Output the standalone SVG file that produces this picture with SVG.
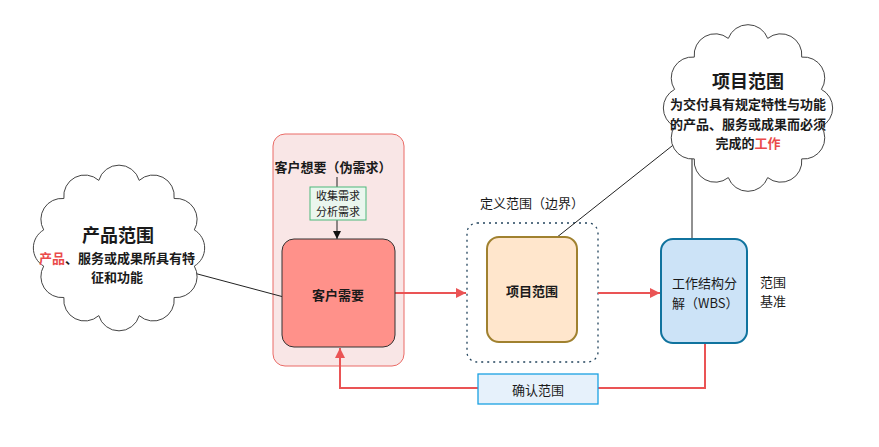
<svg xmlns="http://www.w3.org/2000/svg" width="879" height="447" viewBox="0 0 879 447">
<defs>
<style>
text{font-family:"Noto Sans CJK SC","Noto Sans",sans-serif;fill:#1a1a1a}
.b{font-weight:bold}
.t13{font-size:13px}
.t12{font-size:12.5px}
.t18{font-size:18px;font-weight:bold}
.red{fill:#ea4b4b}
.cloud{fill:#fff;stroke:#444;stroke-width:1}
.thin{stroke:#222;stroke-width:1;fill:none}
.rl{stroke:#ea5455;stroke-width:2;fill:none}
</style>
<marker id="ar" viewBox="0 0 10 10" refX="10" refY="5" markerWidth="10" markerHeight="10" markerUnits="userSpaceOnUse" orient="auto">
<path d="M0,0 L10,5 L0,10 z" fill="#ea5455"/>
</marker>
<marker id="ab" viewBox="0 0 10 10" refX="10" refY="5" markerWidth="8" markerHeight="8" markerUnits="userSpaceOnUse" orient="auto">
<path d="M0,0 L10,5 L0,10 z" fill="#111"/>
</marker>
</defs>
<rect width="879" height="447" fill="#fff"/>

<g id="container-want">
<rect x="273" y="134" width="131" height="232" rx="12" fill="#f9e6e6" stroke="#ea6b66" stroke-width="1"/>
<text class="t13 b" x="333" y="172" text-anchor="middle">客户想要（伪需求）</text>
</g>

<g id="container-define">
<rect x="467" y="223" width="131" height="139" rx="10" fill="none" stroke="#23445d" stroke-width="1.3" stroke-dasharray="2,4"/>
<text class="t13" x="532" y="208" text-anchor="middle">定义范围（边界）</text>
</g>

<g id="connectors">
<line class="thin" x1="190" y1="272" x2="295" y2="300"/>
<line class="thin" x1="537" y1="253" x2="677" y2="142"/>
<line class="thin" x1="692" y1="150" x2="692" y2="262"/>
<line class="thin" x1="337" y1="177" x2="337" y2="239" marker-end="url(#ab)"/>
<line class="rl" x1="395" y1="293" x2="466" y2="293" marker-end="url(#ar)"/>
<line class="rl" x1="598" y1="293" x2="660" y2="293" marker-end="url(#ar)"/>
<polyline class="rl" points="705,343 705,388 340,388 340,348" marker-end="url(#ar)"/>
</g>

<g id="cloud-product">
<path class="cloud" d="M194.3,266.1 A21,21 0 0 1 174.1,297.5 A21,21 0 0 1 139.2,315.6 A21,21 0 0 1 98.8,315.6 A21,21 0 0 1 63.9,297.5 A21,21 0 0 1 43.7,266.1 A21,21 0 0 1 43.7,229.9 A21,21 0 0 1 63.9,198.5 A21,21 0 0 1 98.8,180.4 A21,21 0 0 1 139.2,180.4 A21,21 0 0 1 174.1,198.5 A21,21 0 0 1 194.3,229.9 A21,21 0 0 1 194.3,266.1 Z"/>
<text class="t18" x="118" y="242" text-anchor="middle">产品范围</text>
<text class="t13 b" x="117" y="263" text-anchor="middle"><tspan class="red">产品</tspan>、服务或成果所具有特</text>
<text class="t13 b" x="117" y="282" text-anchor="middle">征和功能</text>
</g>

<g id="cloud-project">
<path class="cloud" d="M821.4,126.6 A21,21 0 0 1 801.7,158.9 A21,21 0 0 1 767.7,177.6 A21,21 0 0 1 728.3,177.6 A21,21 0 0 1 694.3,158.9 A21,21 0 0 1 674.6,126.6 A21,21 0 0 1 674.6,89.4 A21,21 0 0 1 694.3,57.1 A21,21 0 0 1 728.3,38.4 A21,21 0 0 1 767.7,38.4 A21,21 0 0 1 801.7,57.1 A21,21 0 0 1 821.4,89.4 A21,21 0 0 1 821.4,126.6 Z"/>
<text class="t18" x="748" y="88" text-anchor="middle">项目范围</text>
<text class="t13 b" x="748" y="109" text-anchor="middle">为交付具有规定特性与功能</text>
<text class="t13 b" x="748" y="129" text-anchor="middle">的产品、服务或成果而必须</text>
<text class="t13 b" x="748" y="148" text-anchor="middle">完成的<tspan class="red">工作</tspan></text>
</g>

<g id="label-collect">
<rect x="310" y="187" width="56" height="33" fill="#eaf6ee" stroke="#4cb87a" stroke-width="1"/>
<text x="338" y="200" text-anchor="middle" style="font-size:11px">收集需求</text>
<text x="338" y="216" text-anchor="middle" style="font-size:11px">分析需求</text>
</g>

<g id="node-need">
<rect x="282" y="239" width="113" height="108" rx="12" fill="#ff918a" stroke="#333" stroke-width="1"/>
<text class="t13 b" x="338" y="300" text-anchor="middle">客户需要</text>
</g>

<g id="node-scope">
<rect x="487" y="237" width="90" height="105" rx="12" fill="#ffe6cc" stroke="#a0812f" stroke-width="2"/>
<text class="t13 b" x="532" y="296" text-anchor="middle">项目范围</text>
</g>

<g id="node-wbs">
<rect x="661" y="239" width="86" height="104" rx="12" fill="#cce3f7" stroke="#10739e" stroke-width="2"/>
<text class="t13" x="672" y="288">工作结构分</text>
<text class="t13" x="672" y="308">解（WBS）</text>
</g>

<g id="label-baseline">
<text class="t13" x="760" y="287">范围</text>
<text class="t13" x="760" y="306">基准</text>
</g>

<g id="label-verify">
<rect x="478" y="374" width="120" height="30" fill="#e6f1fb" stroke="#1ba1e2" stroke-width="1.3"/>
<text class="t13" x="538" y="395" text-anchor="middle">确认范围</text>
</g>
</svg>
